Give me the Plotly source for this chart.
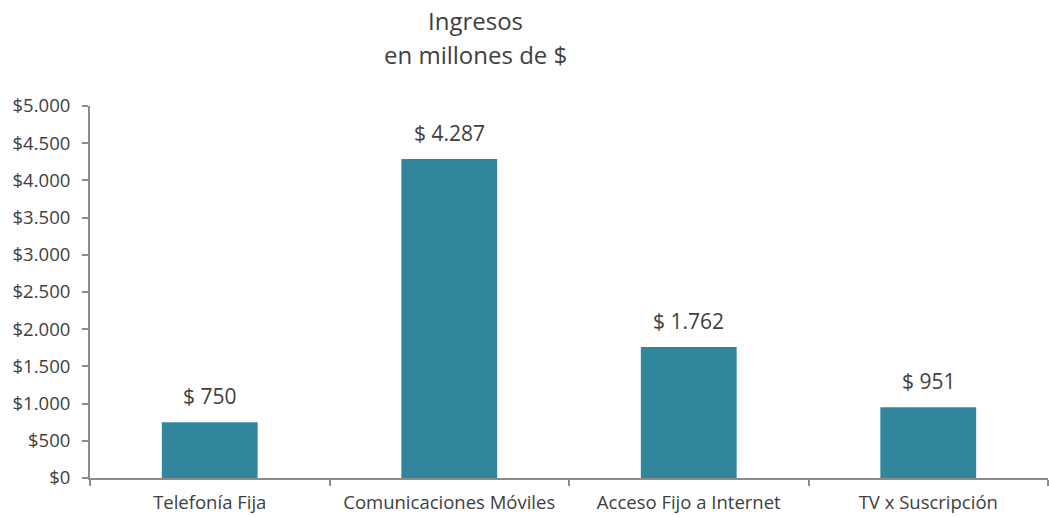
import plotly.graph_objects as go

categorias = ["Telefonía Fija", "Comunicaciones Móviles", "Acceso Fijo a Internet", "TV x Suscripción"]
ingresos = [750, 4287, 1762, 951]
titulo_lineas = ["Ingresos", "en millones de $"]

FONT = "Open Sans"
TXT = "#404040"
AX = "#8c8c8c"

L, R, T, B = 90, 1, 106, 39
W, H = 1049, 517
PW, PH = W - L - R, H - T - B

fig = go.Figure()
fig.add_trace(go.Bar(
    x=categorias, y=ingresos, width=0.4,
    marker=dict(color="#31869B", line=dict(width=0)),
    hoverinfo="x+y",
))

for c, v in zip(categorias, ingresos):
    fig.add_annotation(
        x=c, y=v, text="$ " + f"{v:,}".replace(",", "."),
        showarrow=False, yanchor="bottom", yshift=10,
        font=dict(family=FONT, size=21, color=TXT),
    )

title_px = [20, 55]
for txt, py in zip(titulo_lineas, title_px):
    fig.add_annotation(
        x=(475 - L) / PW, y=(H - B - py) / PH, xref="paper", yref="paper",
        text=txt, showarrow=False, xanchor="center", yanchor="middle",
        font=dict(family=FONT, size=24, color=TXT),
    )

fig.update_layout(
    width=W, height=H,
    margin=dict(l=L, r=R, t=T, b=B),
    paper_bgcolor="white", plot_bgcolor="white",
    separators=",.",
    showlegend=False,
    font=dict(family=FONT, color=TXT),
    xaxis=dict(
        type="category", tickson="boundaries",
        ticks="outside", ticklen=6, tickcolor=AX, tickwidth=2,
        showline=True, linecolor=AX, linewidth=2,
        showgrid=False, zeroline=False, automargin=False,
        ticklabelstandoff=7,
        tickfont=dict(family=FONT, size=18.5, color=TXT),
    ),
    yaxis=dict(
        range=[0, 5000], dtick=500, tickprefix="$", tickformat=",.0f",
        ticks="outside", ticklen=6, tickcolor=AX, tickwidth=2,
        showline=True, linecolor=AX, linewidth=2,
        showgrid=False, zeroline=False, automargin=False,
        ticklabelstandoff=8,
        tickfont=dict(family=FONT, size=18.5, color=TXT),
    ),
)

fig.write_html("out.html", config={"displayModeBar": False},
               post_script="document.body.style.margin='0px';")
